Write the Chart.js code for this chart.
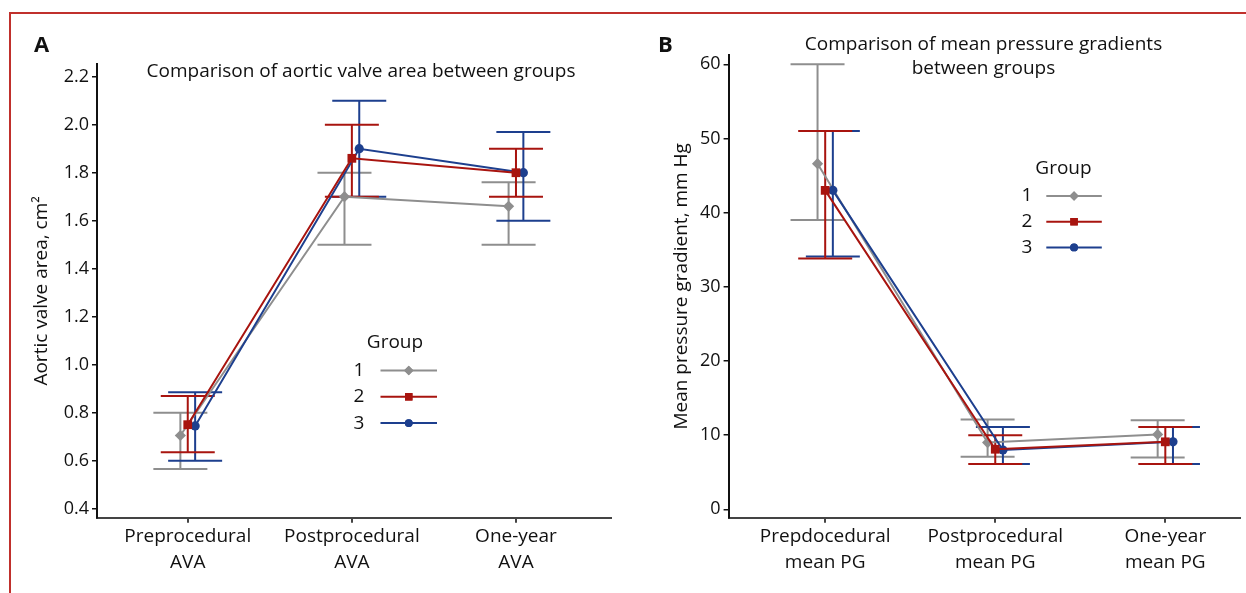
<!DOCTYPE html>
<html>
<head>
<meta charset="utf-8">
<script src="https://cdn.jsdelivr.net/npm/chart.js@4.4.1/dist/chart.umd.min.js"></script>
<style>
html,body{margin:0;padding:0;background:#fff;overflow:hidden;width:1246px;height:593px;position:relative;}
#frame{position:absolute;left:9px;top:12px;width:1300px;height:620px;border-left:2px solid #c0302c;border-top:2px solid #c0302c;box-sizing:border-box;}
#wa{position:absolute;left:0;top:0;width:620px;height:593px;}
#wb{position:absolute;left:620px;top:0;width:626px;height:593px;}
</style>
</head>
<body>
<div id="frame"></div>
<div id="wa"><canvas id="ca"></canvas></div>
<div id="wb"><canvas id="cb"></canvas></div>
<script>
// ---------------- DATA ----------------
const groups = ["1", "2", "3"];

const avaCategories = [["Preprocedural", "AVA"], ["Postprocedural", "AVA"], ["One-year", "AVA"]];
const avaTicks = [0.4, 0.6, 0.8, 1.0, 1.2, 1.4, 1.6, 1.8, 2.0, 2.2];
const avaMean1 = [0.705, 1.70, 1.66];
const avaLow1  = [0.565, 1.50, 1.50];
const avaHigh1 = [0.80, 1.80, 1.76];
const avaMean2 = [0.75, 1.86, 1.80];
const avaLow2  = [0.635, 1.70, 1.70];
const avaHigh2 = [0.87, 2.00, 1.90];
const avaMean3 = [0.745, 1.90, 1.80];
const avaLow3  = [0.60, 1.70, 1.60];
const avaHigh3 = [0.885, 2.10, 1.97];

const pgCategories = [["Prepdocedural", "mean PG"], ["Postprocedural", "mean PG"], ["One-year", "mean PG"]];
const pgTicks = [0, 10, 20, 30, 40, 50, 60];
const pgMean1 = [46.6, 9.0, 10.1];
const pgLow1  = [39.0, 7.1, 7.0];
const pgHigh1 = [60.0, 12.1, 12.0];
const pgMean2 = [43.0, 8.1, 9.1];
const pgLow2  = [33.8, 6.1, 6.1];
const pgHigh2 = [51.0, 10.0, 11.1];
const pgMean3 = [43.0, 8.0, 9.1];
const pgLow3  = [34.1, 6.1, 6.1];
const pgHigh3 = [51.0, 11.1, 11.1];

const titleA = ["Comparison of aortic valve area between groups"];
const titleB = ["Comparison of mean pressure gradients", "between groups"];
const yTitleA = "Aortic valve area, cm\u00B2";
const yTitleB = "Mean pressure gradient, mm Hg";
const legendTitle = "Group";

// ---------------- STYLE ----------------
const FONT = "'Open Sans', 'Noto Sans', sans-serif";
const TEXT = "#111111";
const groupColors = ["#8e8e8e", "#a8140f", "#1d3f8e"];
const groupShapes = ["rectRot", "rect", "circle"];
const groupRadius = [5.6, 6.2, 4.6];
const groupOrder = [3, 1, 2];
const dodge = [-0.045, 0, 0.045];

function makeDatasets(means, lows, highs) {
  return means.map((m, g) => ({
    label: groups[g],
    data: m.map((v, i) => ({ x: i + 1 + dodge[g], y: v, lo: lows[g][i], hi: highs[g][i] })),
    borderColor: groupColors[g],
    backgroundColor: groupColors[g],
    borderWidth: 2,
    pointStyle: groupShapes[g],
    pointRadius: groupRadius[g],
    pointBorderWidth: 0,
    pointBackgroundColor: groupColors[g],
    order: groupOrder[g],
    tension: 0,
    clip: false
  }));
}

const errorBars = {
  id: "errorBars",
  beforeDatasetsDraw(chart, args, opts) {
    const { ctx, scales: { x, y } } = chart;
    ctx.save();
    ctx.lineWidth = 2;
    const idx = chart.data.datasets.map((d, i) => i).sort((a, b) => chart.data.datasets[b].order - chart.data.datasets[a].order);
    idx.forEach(g => {
      const ds = chart.data.datasets[g];
      ctx.strokeStyle = ds.borderColor;
      ds.data.forEach(p => {
        const px = x.getPixelForValue(p.x);
        const yl = y.getPixelForValue(p.lo), yh = y.getPixelForValue(p.hi);
        ctx.beginPath();
        ctx.moveTo(px, yl); ctx.lineTo(px, yh);
        ctx.moveTo(px - opts.cap, yl); ctx.lineTo(px + opts.cap, yl);
        ctx.moveTo(px - opts.cap, yh); ctx.lineTo(px + opts.cap, yh);
        ctx.stroke();
      });
    });
    ctx.restore();
  }
};

const panelText = {
  id: "panelText",
  afterDraw(chart, args, opts) {
    const ctx = chart.ctx;
    ctx.save();
    ctx.fillStyle = TEXT;
    ctx.textBaseline = "alphabetic";
    ctx.textAlign = "left";
    ctx.font = "bold 22px " + FONT;
    ctx.fillText(opts.letter, opts.letterX, opts.letterY);
    ctx.textAlign = "center";
    ctx.font = opts.titleSize + "px " + FONT;
    opts.title.forEach((t, i) => ctx.fillText(t, opts.titleX, opts.titleY + i * opts.titleStep));
    ctx.restore();
  }
};

const groupLegend = {
  id: "groupLegend",
  afterDraw(chart, args, opts) {
    const ctx = chart.ctx;
    ctx.save();
    ctx.fillStyle = TEXT;
    ctx.textBaseline = "middle";
    ctx.textAlign = "center";
    ctx.font = "19px " + FONT;
    ctx.fillText(legendTitle, opts.titleX, opts.titleY);
    chart.data.datasets.forEach((ds, g) => {
      const yy = opts.firstY + g * opts.step;
      ctx.fillStyle = TEXT;
      ctx.fillText(ds.label, opts.numX, yy);
      ctx.strokeStyle = ds.borderColor;
      ctx.lineWidth = 2;
      ctx.beginPath(); ctx.moveTo(opts.x0, yy); ctx.lineTo(opts.x1, yy); ctx.stroke();
      ctx.fillStyle = ds.borderColor;
      Chart.helpers.drawPoint(ctx, { pointStyle: ds.pointStyle, radius: ds.pointRadius * 0.85, rotation: 0, borderWidth: 0 }, (opts.x0 + opts.x1) / 2, yy);
      ctx.fill();
    });
    ctx.restore();
  }
};

function makeChart(id, cfg) {
  return new Chart(document.getElementById(id), {
    type: "line",
    data: { datasets: makeDatasets(cfg.means, cfg.lows, cfg.highs) },
    plugins: [errorBars, panelText, groupLegend],
    options: {
      responsive: true,
      maintainAspectRatio: false,
      animation: false,
      events: [],
      layout: { padding: { left: 0, top: cfg.top, right: cfg.right, bottom: 0 } },
      plugins: {
        legend: { display: false },
        tooltip: { enabled: false },
        errorBars: { cap: 27 },
        panelText: cfg.text,
        groupLegend: cfg.legend
      },
      scales: {
        x: {
          type: "linear",
          min: cfg.xMin, max: cfg.xMax,
          afterBuildTicks: s => { s.ticks = cfg.categories.map((c, i) => ({ value: i + 1 })); },
          afterFit: s => { s.height = cfg.xHeight; },
          ticks: {
            autoSkip: false, maxRotation: 0, minRotation: 0,
            callback: v => cfg.categories[Math.round(v) - 1],
            color: TEXT, padding: 1,
            font: { family: FONT, size: 19, lineHeight: 1.37 }
          },
          grid: { drawOnChartArea: false, drawTicks: true, tickLength: 5, color: "#444", lineWidth: 2 },
          border: { display: true, color: "#444", width: 2 }
        },
        y: {
          type: "linear",
          min: cfg.yMin, max: cfg.yMax,
          afterBuildTicks: s => { s.ticks = cfg.ticks.map(v => ({ value: v })); },
          afterFit: s => { s.width = cfg.yWidth; },
          ticks: {
            callback: v => cfg.tickFmt(v),
            color: TEXT, padding: 3,
            font: { family: FONT, size: 18 }
          },
          grid: { drawOnChartArea: false, drawTicks: true, tickLength: 5, color: "#111", lineWidth: 1.5 },
          border: { display: true, color: "#111", width: 2 },
          title: {
            display: true, text: cfg.yTitle, color: TEXT,
            font: { family: FONT, size: 19, lineHeight: 1.2 },
            padding: { top: cfg.yTitlePad, bottom: 0 }
          }
        }
      }
    }
  });
}

makeChart("ca", {
  means: [avaMean1, avaMean2, avaMean3],
  lows: [avaLow1, avaLow2, avaLow3],
  highs: [avaHigh1, avaHigh2, avaHigh3],
  categories: avaCategories,
  ticks: avaTicks,
  tickFmt: v => v.toFixed(1),
  yTitle: yTitleA,
  yTitlePad: 30,
  xMin: 0.447, xMax: 3.579,
  yMin: 0.3625, yMax: 2.253,
  top: 64, right: 9, xHeight: 75.3, yWidth: 97,
  text: { letter: "A", letterX: 34, letterY: 52, title: titleA, titleX: 361, titleY: 77, titleStep: 25, titleSize: 19 },
  legend: { titleX: 395, titleY: 343, numX: 359, firstY: 370.5, step: 26.3, x0: 380.5, x1: 437 }
});

makeChart("cb", {
  means: [pgMean1, pgMean2, pgMean3],
  lows: [pgLow1, pgLow2, pgLow3],
  highs: [pgHigh1, pgHigh2, pgHigh3],
  categories: pgCategories,
  ticks: pgTicks,
  tickFmt: v => String(v),
  yTitle: yTitleB,
  yTitlePad: 50,
  xMin: 0.432, xMax: 3.438,
  yMin: -1.13, yMax: 61.25,
  top: 55, right: 4.3, xHeight: 75.3, yWidth: 108.6,
  text: { letter: "B", letterX: 38, letterY: 52, title: titleB, titleX: 363.5, titleY: 49.5, titleStep: 24.5, titleSize: 19 },
  legend: { titleX: 443.5, titleY: 169, numX: 407, firstY: 196, step: 25.7, x0: 426.3, x1: 481.8 }
});
</script>
</body>
</html>
